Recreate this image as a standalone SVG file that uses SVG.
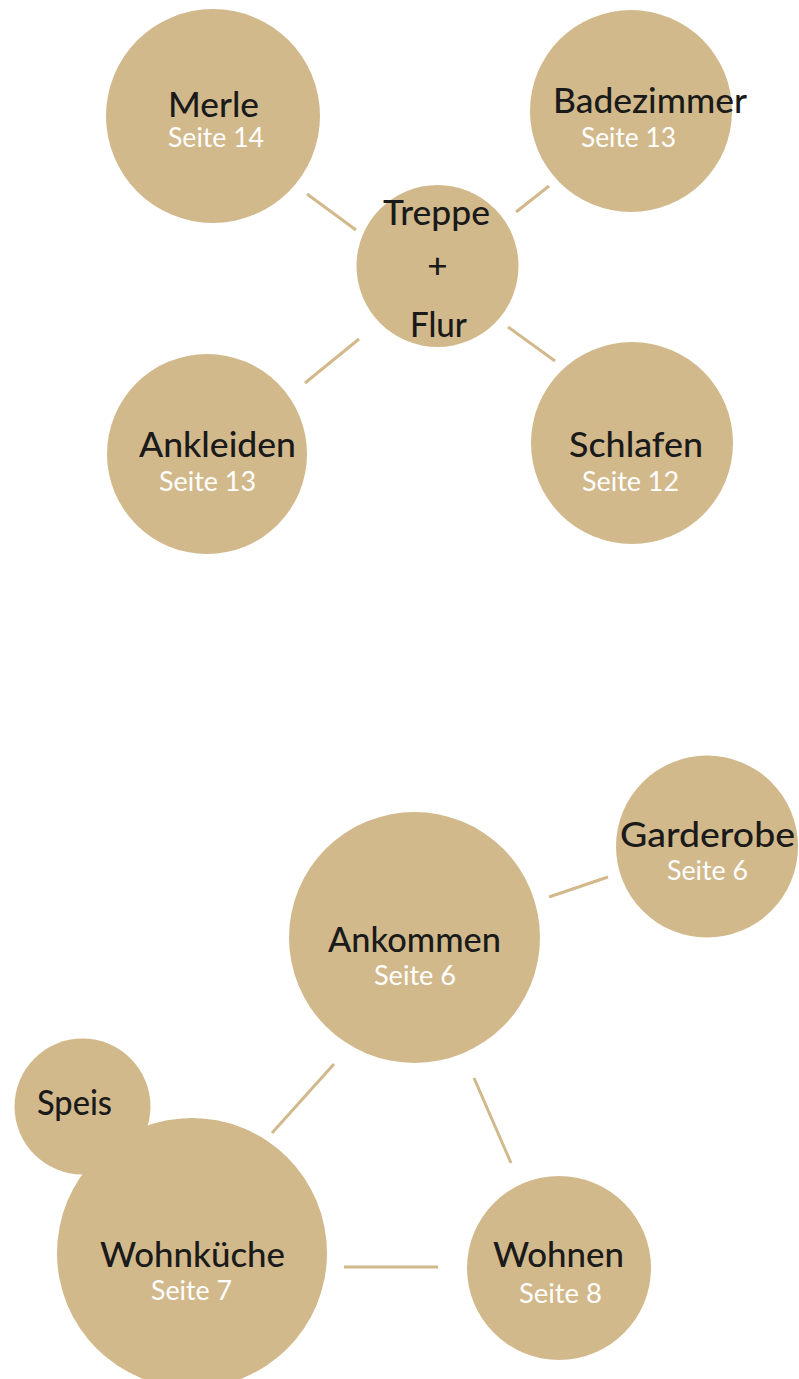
<svg xmlns="http://www.w3.org/2000/svg" width="799" height="1379" viewBox="0 0 799 1379">
<style>
.n{fill:#D2B98C}
.t{font-family:Lato,"Liberation Sans",sans-serif;font-size:35px;font-weight:500;fill:#1a1a1a}
.s{font-family:Lato,"Liberation Sans",sans-serif;font-size:27px;fill:#ffffff}
.c line{stroke:#D2B98C;stroke-width:3}
</style>
<rect width="799" height="1379" fill="#ffffff"/>
<g class="c" id="connectors">
<line x1="307" y1="194" x2="356" y2="230"/>
<line x1="549" y1="186" x2="516" y2="212"/>
<line x1="359" y1="339" x2="305" y2="383"/>
<line x1="508" y1="327" x2="555" y2="361"/>
<line x1="549" y1="897" x2="608" y2="877"/>
<line x1="334" y1="1064" x2="272" y2="1133"/>
<line x1="474" y1="1078" x2="511" y2="1163"/>
<line x1="344" y1="1267" x2="438" y2="1267"/>
</g>
<g id="merle"><circle class="n" cx="213" cy="116" r="107"/>
<text class="t" x="168" y="117" textLength="91" lengthAdjust="spacingAndGlyphs">Merle</text>
<text class="s" x="168" y="147" textLength="96" lengthAdjust="spacingAndGlyphs">Seite 14</text></g>
<g id="badezimmer"><circle class="n" cx="631" cy="111" r="101"/>
<text class="t" x="553" y="113" textLength="194" lengthAdjust="spacingAndGlyphs">Badezimmer</text>
<text class="s" x="581" y="147" textLength="95" lengthAdjust="spacingAndGlyphs">Seite 13</text></g>
<g id="treppe"><circle class="n" cx="437.5" cy="266" r="81"/>
<text class="t" x="383" y="225" textLength="107" lengthAdjust="spacingAndGlyphs">Treppe</text>
<text class="t" x="437.5" y="278" text-anchor="middle">+</text>
<text class="t" x="410" y="337" textLength="57" lengthAdjust="spacingAndGlyphs">Flur</text></g>
<g id="ankleiden"><circle class="n" cx="207" cy="454" r="100"/>
<text class="t" x="139" y="457" textLength="157" lengthAdjust="spacingAndGlyphs">Ankleiden</text>
<text class="s" x="159" y="491" textLength="97" lengthAdjust="spacingAndGlyphs">Seite 13</text></g>
<g id="schlafen"><circle class="n" cx="632" cy="443" r="101"/>
<text class="t" x="569" y="457" textLength="134" lengthAdjust="spacingAndGlyphs">Schlafen</text>
<text class="s" x="582" y="491" textLength="97" lengthAdjust="spacingAndGlyphs">Seite 12</text></g>
<g id="garderobe"><circle class="n" cx="707" cy="846.5" r="91"/>
<text class="t" x="620" y="847" textLength="175" lengthAdjust="spacingAndGlyphs">Garderobe</text>
<text class="s" x="667" y="880" textLength="81" lengthAdjust="spacingAndGlyphs">Seite 6</text></g>
<g id="ankommen"><circle class="n" cx="414.5" cy="937.5" r="125.5"/>
<text class="t" x="328" y="952" textLength="173" lengthAdjust="spacingAndGlyphs">Ankommen</text>
<text class="s" x="374" y="985" textLength="82" lengthAdjust="spacingAndGlyphs">Seite 6</text></g>
<g id="speis"><circle class="n" cx="82.5" cy="1106.5" r="68"/>
<text class="t" x="37" y="1115" textLength="75" lengthAdjust="spacingAndGlyphs">Speis</text></g>
<g id="wohnkueche"><circle class="n" cx="192" cy="1253" r="135"/>
<text class="t" x="100" y="1267" textLength="185" lengthAdjust="spacingAndGlyphs">Wohnküche</text>
<text class="s" x="151" y="1300" textLength="81" lengthAdjust="spacingAndGlyphs">Seite 7</text></g>
<g id="wohnen"><circle class="n" cx="559" cy="1268" r="92"/>
<text class="t" x="493" y="1267" textLength="131" lengthAdjust="spacingAndGlyphs">Wohnen</text>
<text class="s" x="519" y="1303" textLength="83" lengthAdjust="spacingAndGlyphs">Seite 8</text></g>
</svg>
